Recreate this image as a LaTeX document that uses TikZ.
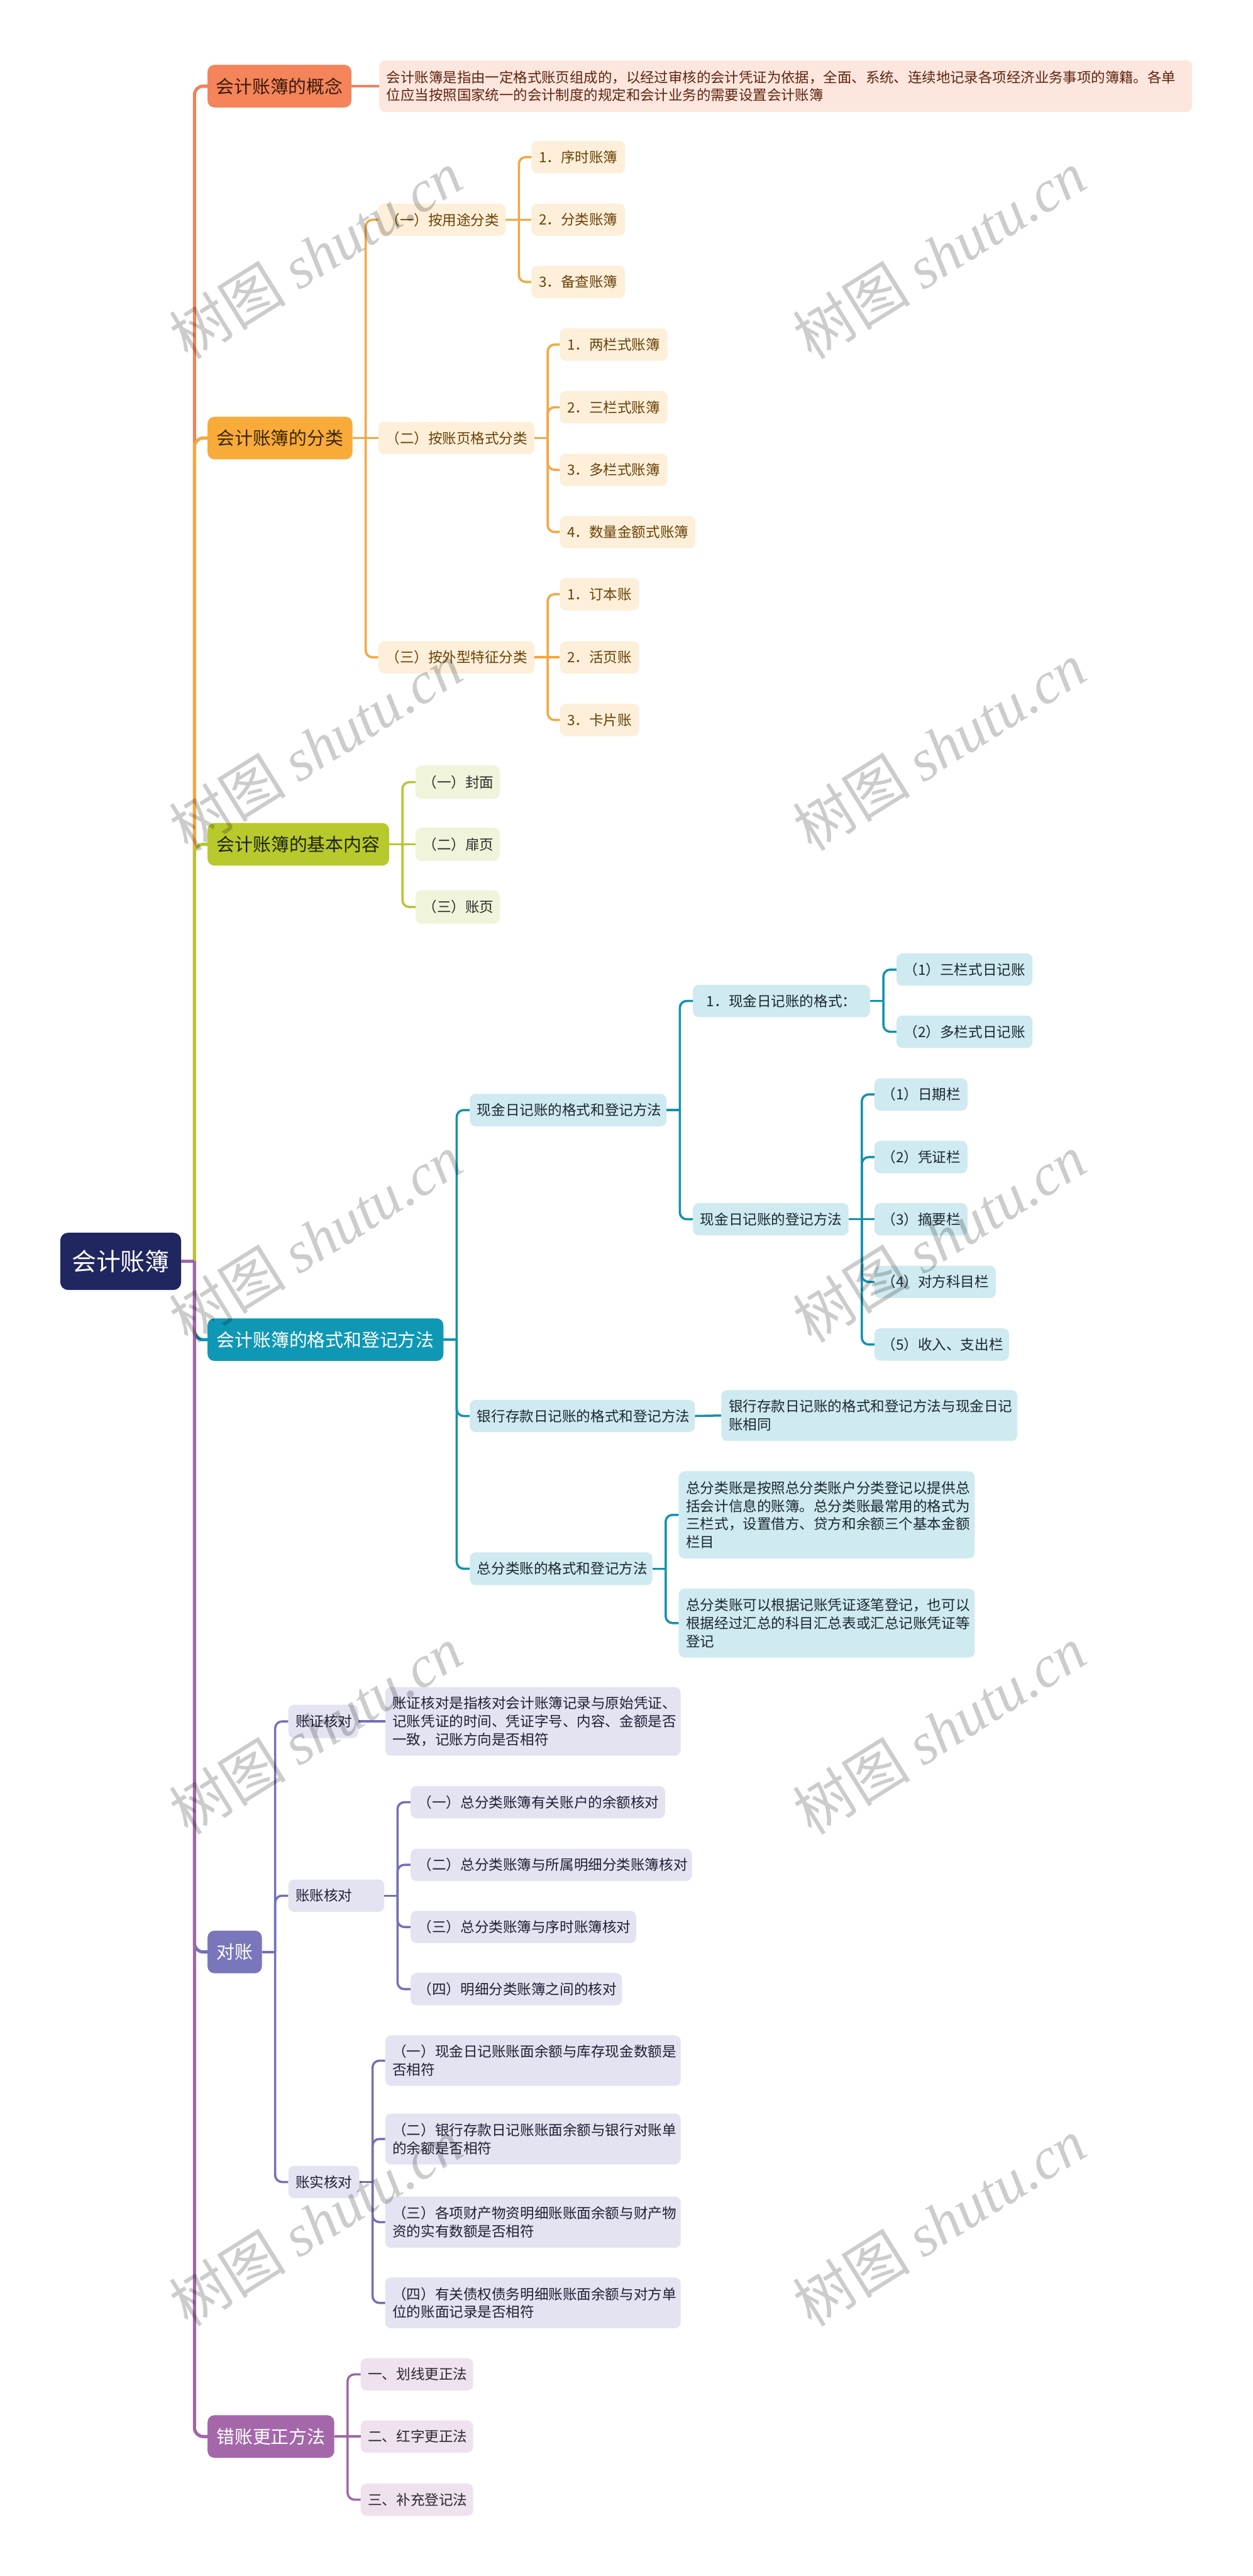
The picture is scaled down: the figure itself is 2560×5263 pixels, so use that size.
\documentclass[tikz,border=0pt]{standalone}
\usepackage{fontspec}
\newfontfamily\cjk{Noto Sans CJK SC}
\newfontfamily\wmser{Liberation Serif}
\usetikzlibrary{calc}
\definecolor{rootc}{HTML}{20265F}
\definecolor{aF}{HTML}{F6845B}\definecolor{aL}{HTML}{F08158}\definecolor{aS}{HTML}{FDE6DD}\definecolor{aT}{HTML}{5E2410}\definecolor{aH}{HTML}{3A1A0A}
\definecolor{bF}{HTML}{F9AB3A}\definecolor{bL}{HTML}{F4A73F}\definecolor{bS}{HTML}{FDEFD9}\definecolor{bT}{HTML}{6A4208}\definecolor{bH}{HTML}{3A2600}
\definecolor{cF}{HTML}{B8C92E}\definecolor{cL}{HTML}{B6C633}\definecolor{cS}{HTML}{F0F4DA}\definecolor{cT}{HTML}{2B2B2B}\definecolor{cH}{HTML}{1E2400}
\definecolor{dF}{HTML}{0F98B6}\definecolor{dL}{HTML}{1192AF}\definecolor{dS}{HTML}{CFEAF1}\definecolor{dT}{HTML}{1B2830}
\definecolor{eF}{HTML}{7976BC}\definecolor{eL}{HTML}{7370B5}\definecolor{eS}{HTML}{E4E3F1}\definecolor{eT}{HTML}{1F1F36}
\definecolor{fF}{HTML}{A468AA}\definecolor{fL}{HTML}{A066A6}\definecolor{fS}{HTML}{EFE2EF}\definecolor{fT}{HTML}{2A2A2A}
\tikzset{
  rootbox/.style={fill=rootc, rounded corners=16pt, text=white, inner sep=0pt, align=center, font=\cjk\fontsize{50}{60}\selectfont},
  lone/.style={rounded corners=14pt, inner sep=0pt, align=center, font=\cjk\fontsize{37}{45}\selectfont},
  leaf/.style={rounded corners=12pt, inner xsep=15pt, inner ysep=0pt, align=left, text width=\mkt pt, font=\cjk\fontsize{29}{37}\selectfont},
  mainline/.style={line width=6.5pt},
  subline/.style={line width=4.5pt},
  wm/.style={text=black, text opacity=0.2, inner sep=0pt, font=\cjk\fontsize{120}{120}\selectfont},
}
\newcommand\mkbox[7]{%
  \pgfmathsetmacro\mkw{#4-#3}%
  \pgfmathsetmacro\mkt{#4-#3-30}%
  \node[#2, anchor=west, minimum width=\mkw pt, minimum height=#6pt] (#1) at (#3,#5) {#7};}
\newcommand\mkjunc[2]{\coordinate (#1j) at ([xshift=27pt]#1.east); \draw[subline,#2] (#1.east) -- (#1j);}
\newcommand\mkarms[3]{\foreach \ch in {#3} {\draw[subline,#2,rounded corners=14pt] (#1j) |- (\ch.west);}}
\newcommand\mkflat[3]{\draw[subline,#2] (#1j) -- (#3.west);}
\begin{document}
\begin{tikzpicture}[x=1pt,y=-1pt]
\useasboundingbox (0,0) rectangle (2560,5263);
\fill[white] (0,0) rectangle (2560,5263);
% root
\mkbox{root}{rootbox}{123}{370}{2577}{117}{会计账簿}
% branch 1
\mkbox{c1}{lone,fill=aF,text=aH}{424}{718}{176}{87}{会计账簿的概念}
\mkbox{c1a}{leaf,fill=aS,text=aT,font=\cjk\fontsize{28.8}{37}\selectfont}{775}{2436}{176}{105}{会计账簿是指由一定格式账页组成的，以经过审核的会计凭证为依据，全面、系统、连续地记录各项经济业务事项的簿籍。各单\\位应当按照国家统一的会计制度的规定和会计业务的需要设置会计账簿}
% branch 2
\mkbox{c2}{lone,fill=bF,text=bH}{424}{720}{895}{87}{会计账簿的分类}
\mkbox{c2a}{leaf,fill=bS,text=bT}{773}{1033}{449}{66}{（一）按用途分类}
\mkbox{c2a1}{leaf,fill=bS,text=bT}{1086}{1277}{321}{66}{1．序时账簿}
\mkbox{c2a2}{leaf,fill=bS,text=bT}{1086}{1277}{449}{66}{2．分类账簿}
\mkbox{c2a3}{leaf,fill=bS,text=bT}{1086}{1277}{576}{66}{3．备查账簿}
\mkbox{c2b}{leaf,fill=bS,text=bT}{773}{1092}{895}{66}{（二）按账页格式分类}
\mkbox{c2b1}{leaf,fill=bS,text=bT}{1144}{1364}{704}{66}{1．两栏式账簿}
\mkbox{c2b2}{leaf,fill=bS,text=bT}{1144}{1364}{832}{66}{2．三栏式账簿}
\mkbox{c2b3}{leaf,fill=bS,text=bT}{1144}{1364}{960}{66}{3．多栏式账簿}
\mkbox{c2b4}{leaf,fill=bS,text=bT}{1144}{1421}{1087}{66}{4．数量金额式账簿}
\mkbox{c2c}{leaf,fill=bS,text=bT}{773}{1092}{1343}{66}{（三）按外型特征分类}
\mkbox{c2c1}{leaf,fill=bS,text=bT}{1144}{1306}{1214}{66}{1．订本账}
\mkbox{c2c2}{leaf,fill=bS,text=bT}{1144}{1306}{1343}{66}{2．活页账}
\mkbox{c2c3}{leaf,fill=bS,text=bT}{1144}{1306}{1471}{66}{3．卡片账}
% branch 3
\mkbox{c3}{lone,fill=cF,text=cH}{424}{795}{1725}{87}{会计账簿的基本内容}
\mkbox{c3a}{leaf,fill=cS,text=cT}{849}{1021}{1598}{68}{（一）封面}
\mkbox{c3b}{leaf,fill=cS,text=cT}{849}{1021}{1725}{68}{（二）扉页}
\mkbox{c3c}{leaf,fill=cS,text=cT}{849}{1021}{1853}{68}{（三）账页}
% branch 4
\mkbox{c4}{lone,fill=dF,text=white}{424}{906}{2737}{87}{会计账簿的格式和登记方法}
\mkbox{c4a}{leaf,fill=dS,text=dT}{960}{1362}{2268}{66}{现金日记账的格式和登记方法}
\mkbox{c4a1}{leaf,fill=dS,text=dT,align=center}{1416}{1778}{2045}{66}{1．现金日记账的格式：}
\mkbox{c4a1a}{leaf,fill=dS,text=dT}{1832}{2110}{1981}{66}{（1）三栏式日记账}
\mkbox{c4a1b}{leaf,fill=dS,text=dT}{1832}{2110}{2108}{66}{（2）多栏式日记账}
\mkbox{c4a2}{leaf,fill=dS,text=dT}{1416}{1734}{2491}{66}{现金日记账的登记方法}
\mkbox{c4a2a}{leaf,fill=dS,text=dT}{1787}{1977}{2236}{66}{（1）日期栏}
\mkbox{c4a2b}{leaf,fill=dS,text=dT}{1787}{1977}{2364}{66}{（2）凭证栏}
\mkbox{c4a2c}{leaf,fill=dS,text=dT}{1787}{1977}{2491}{66}{（3）摘要栏}
\mkbox{c4a2d}{leaf,fill=dS,text=dT}{1787}{2035}{2619}{66}{（4）对方科目栏}
\mkbox{c4a2e}{leaf,fill=dS,text=dT}{1787}{2062}{2747}{66}{（5）收入、支出栏}
\mkbox{c4b}{leaf,fill=dS,text=dT}{960}{1420}{2893}{66}{银行存款日记账的格式和登记方法}
\mkbox{c4b1}{leaf,fill=dS,text=dT}{1474}{2079}{2892}{104}{银行存款日记账的格式和登记方法与现金日记\\账相同}
\mkbox{c4c}{leaf,fill=dS,text=dT}{960}{1333}{3205}{67}{总分类账的格式和登记方法}
\mkbox{c4c1}{leaf,fill=dS,text=dT}{1387}{1992}{3095}{178}{总分类账是按照总分类账户分类登记以提供总\\括会计信息的账簿。总分类账最常用的格式为\\三栏式，设置借方、贷方和余额三个基本金额\\栏目}
\mkbox{c4c2}{leaf,fill=dS,text=dT}{1387}{1992}{3316}{141}{总分类账可以根据记账凭证逐笔登记，也可以\\根据经过汇总的科目汇总表或汇总记账凭证等\\登记}
% branch 5
\mkbox{c5}{lone,fill=eF,text=white}{424}{535}{3988}{87}{对账}
\mkbox{c5a}{leaf,fill=eS,text=eT}{589}{732}{3517}{68}{账证核对}
\mkbox{c5a1}{leaf,fill=eS,text=eT}{787}{1391}{3517}{140}{账证核对是指核对会计账簿记录与原始凭证、\\记账凭证的时间、凭证字号、内容、金额是否\\一致，记账方向是否相符}
\mkbox{c5b}{leaf,fill=eS,text=eT}{589}{785}{3873}{66}{账账核对}
\mkbox{c5b1}{leaf,fill=eS,text=eT}{839}{1359}{3682}{66}{（一）总分类账簿有关账户的余额核对}
\mkbox{c5b2}{leaf,fill=eS,text=eT}{839}{1414}{3810}{66}{（二）总分类账簿与所属明细分类账簿核对}
\mkbox{c5b3}{leaf,fill=eS,text=eT}{839}{1300}{3937}{66}{（三）总分类账簿与序时账簿核对}
\mkbox{c5b4}{leaf,fill=eS,text=eT}{839}{1271}{4064}{66}{（四）明细分类账簿之间的核对}
\mkbox{c5c}{leaf,fill=eS,text=eT}{589}{734}{4458}{66}{账实核对}
\mkbox{c5c1}{leaf,fill=eS,text=eT}{787}{1391}{4210}{103}{（一）现金日记账账面余额与库存现金数额是\\否相符}
\mkbox{c5c2}{leaf,fill=eS,text=eT}{787}{1391}{4370}{104}{（二）银行存款日记账账面余额与银行对账单\\的余额是否相符}
\mkbox{c5c3}{leaf,fill=eS,text=eT}{787}{1391}{4540}{105}{（三）各项财产物资明细账账面余额与财产物\\资的实有数额是否相符}
\mkbox{c5c4}{leaf,fill=eS,text=eT}{787}{1391}{4705}{104}{（四）有关债权债务明细账账面余额与对方单\\位的账面记录是否相符}
% branch 6
\mkbox{c6}{lone,fill=fF,text=white}{424}{683}{4978}{87}{错账更正方法}
\mkbox{c6a}{leaf,fill=fS,text=fT}{737}{967}{4851}{66}{一、划线更正法}
\mkbox{c6b}{leaf,fill=fS,text=fT}{737}{967}{4978}{66}{二、红字更正法}
\mkbox{c6c}{leaf,fill=fS,text=fT}{737}{967}{5107}{66}{三、补充登记法}
% main connectors
\coordinate (rootj) at ([xshift=27pt]root.east);
\draw[mainline,aL,rounded corners=18pt] (rootj) |- (c1.west);
\draw[mainline,bL,rounded corners=18pt] (rootj) |- (c2.west);
\draw[mainline,cL,rounded corners=18pt] (rootj) |- (c3.west);
\draw[mainline,dL,rounded corners=18pt] (rootj) |- (c4.west);
\draw[mainline,eL,rounded corners=18pt] (rootj) |- (c5.west);
\draw[mainline,fL,rounded corners=18pt] (rootj) |- (c6.west);
\draw[mainline,fL] (root.east) -- (rootj);
% branch 1
\draw[subline,aL] (c1.east) -- (c1a.west);
% branch 2
\mkjunc{c2}{bL}\mkarms{c2}{bL}{c2a,c2c}\mkflat{c2}{bL}{c2b}
\mkjunc{c2a}{bL}\mkarms{c2a}{bL}{c2a1,c2a3}\mkflat{c2a}{bL}{c2a2}
\mkjunc{c2b}{bL}\mkarms{c2b}{bL}{c2b1,c2b2,c2b3,c2b4}
\mkjunc{c2c}{bL}\mkarms{c2c}{bL}{c2c1,c2c3}\mkflat{c2c}{bL}{c2c2}
% branch 3
\mkjunc{c3}{cL}\mkarms{c3}{cL}{c3a,c3c}\mkflat{c3}{cL}{c3b}
% branch 4
\mkjunc{c4}{dL}\mkarms{c4}{dL}{c4a,c4b,c4c}
\mkjunc{c4a}{dL}\mkarms{c4a}{dL}{c4a1,c4a2}
\mkjunc{c4a1}{dL}\mkarms{c4a1}{dL}{c4a1a,c4a1b}
\mkjunc{c4a2}{dL}\mkarms{c4a2}{dL}{c4a2a,c4a2b,c4a2d,c4a2e}\mkflat{c4a2}{dL}{c4a2c}
\draw[subline,dL] (c4b.east) -- (c4b1.west);
\mkjunc{c4c}{dL}\mkarms{c4c}{dL}{c4c1,c4c2}
% branch 5
\mkjunc{c5}{eL}\mkarms{c5}{eL}{c5a,c5b,c5c}
\draw[subline,eL] (c5a.east) -- (c5a1.west);
\mkjunc{c5b}{eL}\mkarms{c5b}{eL}{c5b1,c5b2,c5b3,c5b4}
\mkjunc{c5c}{eL}\mkarms{c5c}{eL}{c5c1,c5c2,c5c3,c5c4}
% branch 6
\mkjunc{c6}{fL}\mkarms{c6}{fL}{c6a,c6c}\mkflat{c6}{fL}{c6b}
% watermarks
\foreach \k/\yy in {1/520,2/1525,3/2530,4/3535,5/4540} {
  \node[wm,rotate=32] (wmL\k) at (645,\yy) {树图 {\wmser\itshape shutu.cn}};
  \node[wm,rotate=32] (wmR\k) at (1920,\yy) {树图 {\wmser\itshape shutu.cn}};
}
\end{tikzpicture}
\end{document}
